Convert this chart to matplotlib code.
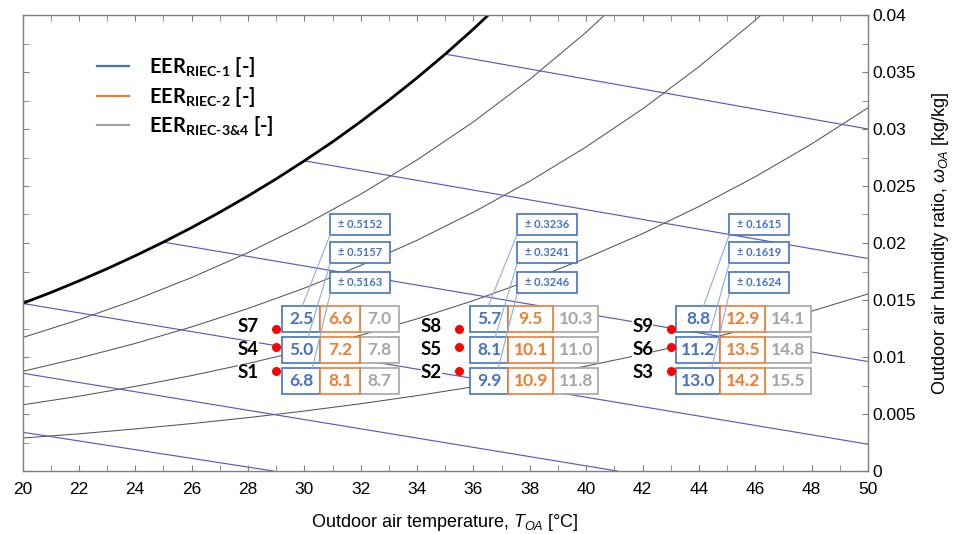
import matplotlib
matplotlib.use('Agg')
import matplotlib.pyplot as plt
from matplotlib.patches import Rectangle
from matplotlib.lines import Line2D
from matplotlib.ticker import MultipleLocator, FuncFormatter

plt.rcParams['font.family'] = ['Liberation Sans', 'DejaVu Sans']
plt.rcParams['mathtext.fontset'] = 'custom'
plt.rcParams['mathtext.rm'] = 'Lato:bold'
plt.rcParams['mathtext.bf'] = 'Lato:bold'
plt.rcParams['mathtext.it'] = 'Liberation Sans:italic'

# saturation curve (RH 100 %)
t_sat = [20, 21, 22, 23, 24, 25, 26, 27, 28, 29, 30, 31, 32, 33, 34, 35, 36, 37]
w_sat = [0.01470, 0.01565, 0.01667, 0.01774, 0.01888, 0.02008, 0.02135, 0.02270,
         0.02412, 0.02562, 0.02721, 0.02887, 0.03065, 0.03252, 0.03449, 0.03657,
         0.03877, 0.04110]

# relative humidity curves 80 / 60 / 40 / 20 %
t_rh = [20, 22, 24, 26, 28, 30, 32, 34, 36, 38, 40, 42, 44, 46, 48, 50]
w_rh80 = [0.01170, 0.01327, 0.01501, 0.01697, 0.01915, 0.02158, 0.02428, 0.02729,
          0.03063, 0.03436, 0.03849, 0.04309]
w_rh60 = [0.00874, 0.00990, 0.01119, 0.01264, 0.01425, 0.01604, 0.01803, 0.02024,
          0.02270, 0.02542, 0.02843, 0.03176, 0.03546, 0.03954, 0.04406]
w_rh40 = [0.00580, 0.00656, 0.00742, 0.00837, 0.00943, 0.01060, 0.01191, 0.01335,
          0.01495, 0.01672, 0.01867, 0.02082, 0.02320, 0.02581, 0.02869, 0.03186]
w_rh20 = [0.00289, 0.00326, 0.00369, 0.00416, 0.00468, 0.00526, 0.00590, 0.00661,
          0.00739, 0.00825, 0.00920, 0.01024, 0.01139, 0.01265, 0.01402, 0.01553]

# wet-bulb lines (start / end points)
wb_t0 = [20, 20, 20, 25, 30, 35]
wb_w0 = [0.0034, 0.00858, 0.01470, 0.02008, 0.02721, 0.03657]
wb_t1 = [28.9, 41.1, 50, 50, 50, 50]
wb_w1 = [0.0, 0.0, 0.00235, 0.00960, 0.01864, 0.03000]

# operating points S1..S9
s_names = ['S1', 'S2', 'S3', 'S4', 'S5', 'S6', 'S7', 'S8', 'S9']
s_t = [29, 35.5, 43, 29, 35.5, 43, 29, 35.5, 43]
s_w = [0.0088, 0.0088, 0.0088, 0.0109, 0.0109, 0.0109, 0.0125, 0.0125, 0.0125]
eer1 = [6.8, 9.9, 13.0, 5.0, 8.1, 11.2, 2.5, 5.7, 8.8]
eer2 = [8.1, 10.9, 14.2, 7.2, 10.1, 13.5, 6.6, 9.5, 12.9]
eer34 = [8.7, 11.8, 15.5, 7.8, 11.0, 14.8, 7.0, 10.3, 14.1]
unc = [0.5163, 0.3246, 0.1624, 0.5157, 0.3241, 0.1619, 0.5152, 0.3236, 0.1615]

c_blue = '#4472C4'
c_orange = '#ED7D31'
c_grey = '#A5A5A5'
c_wb = '#5A5AC0'

# table layout (data units)
cell_x = [[29.21, 30.56, 31.98, 33.37],
          [35.89, 37.23, 38.83, 40.43],
          [43.20, 44.76, 46.36, 47.99]]
row_bot = [0.00674, 0.00945, 0.01217]
cell_h = 0.00227
box_x = [30.92, 37.55, 45.08]
box_w = 2.13
box_bot = [0.01558, 0.01821, 0.02074]
box_h = 0.00184
conn_x = [[30.28, 30.13, 29.92], [36.88, 36.77, 36.52], [44.45, 44.34, 44.16]]
label_dw = [-0.0002, -0.0002, 0.0002]  # small label shift vs. dot, per row

fig = plt.figure(figsize=(9.56, 5.34), dpi=100)
ax = fig.add_axes([22.5 / 956, 63 / 534, 845.5 / 956, 456 / 534])

ax.plot(t_sat, w_sat, color='black', lw=2.0, zorder=2)
for w in [w_rh80, w_rh60, w_rh40, w_rh20]:
    ax.plot(t_rh[:len(w)], w, color='#555555', lw=0.75, zorder=1)
for i in range(len(wb_t0)):
    ax.plot([wb_t0[i], wb_t1[i]], [wb_w0[i], wb_w1[i]], color=c_wb, lw=0.85, zorder=1)

ax.plot(s_t, s_w, 'o', color='red', ms=6.5, mec='none', zorder=7)
for i, name in enumerate(s_names):
    ax.text(s_t[i] - 0.62, s_w[i] + label_dw[i // 3], name, ha='right', va='center',
            fontsize=13.5, fontweight='bold', family='Lato', color='black', zorder=7,
            bbox=dict(fc='white', ec='none', pad=0.0))

for i in range(9):
    g = i % 3
    r = i // 3
    xs = cell_x[g]
    vals = [eer1[i], eer34[i], eer2[i]]
    cols = [c_blue, c_grey, c_orange]
    idx = [0, 2, 1]
    for v, c, k in zip(vals, cols, idx):
        ax.add_patch(Rectangle((xs[k], row_bot[r]), xs[k + 1] - xs[k], cell_h,
                               fc='white', ec=c, lw=1.2, zorder=4))
        ax.text((xs[k] + xs[k + 1]) / 2, row_bot[r] + cell_h / 2, f'{v:.1f}',
                ha='center', va='center', color=c, fontsize=12.5,
                fontweight='bold', family='Lato', zorder=6)
    # uncertainty box and connector
    ax.add_patch(Rectangle((box_x[g], box_bot[r]), box_w, box_h,
                           fc='white', ec=c_blue, lw=1.2, zorder=4))
    ax.text(box_x[g] + box_w / 2, box_bot[r] + box_h / 2, f'± {unc[i]:.4f}',
            ha='center', va='center', color=c_blue, fontsize=8,
            fontweight='bold', family='Lato', zorder=6)
    ax.plot([box_x[g], conn_x[g][r]], [box_bot[r], row_bot[r] + cell_h],
            color='#8FAADC', lw=0.8, zorder=5)

ax.set_xlim(20, 50)
ax.set_ylim(0, 0.04)
ax.xaxis.set_major_locator(MultipleLocator(2))
ax.xaxis.set_minor_locator(MultipleLocator(1))
ax.yaxis.set_major_locator(MultipleLocator(0.005))
ax.yaxis.set_minor_locator(MultipleLocator(0.0025))
ax.yaxis.set_major_formatter(FuncFormatter(lambda v, p: '0' if abs(v) < 1e-9 else f'{v:g}'))
ax.tick_params(which='both', direction='in', top=True, bottom=True, left=True,
               right=True, labelleft=False, labelright=True, color='#808080',
               labelsize=12.5)
ax.tick_params(which='major', length=4)
ax.tick_params(which='minor', length=4)
ax.tick_params(axis='x', pad=8)
ax.tick_params(axis='y', pad=3)
for s in ax.spines.values():
    s.set_color('#808080')
    s.set_linewidth(1.0)

ax.set_xlabel('Outdoor air temperature, $T_{OA}$ [°C]', fontsize=13, labelpad=11)
ax.yaxis.set_label_position('right')
ax.set_ylabel('Outdoor air humidity ratio, $\\omega_{OA}$ [kg/kg]', fontsize=13,
              labelpad=10)

handles = [Line2D([], [], color=c_blue, lw=1.6),
           Line2D([], [], color=c_orange, lw=1.6),
           Line2D([], [], color=c_grey, lw=1.6)]
labels = [r'$\mathrm{EER}_{\mathrm{RIEC}\text{-1}}$ [-]',
          r'$\mathrm{EER}_{\mathrm{RIEC}\text{-2}}$ [-]',
          r'$\mathrm{EER}_{\mathrm{RIEC}\text{-3&4}}$ [-]']
ax.legend(handles, labels, loc='upper left', bbox_to_anchor=(0.088, 0.912),
          frameon=False, prop={'family': 'Lato', 'weight': 'bold', 'size': 14.5},
          handlelength=1.6, handletextpad=1.0, labelspacing=0.28, borderpad=0,
          borderaxespad=0)

fig.savefig('out.png', dpi=100)
